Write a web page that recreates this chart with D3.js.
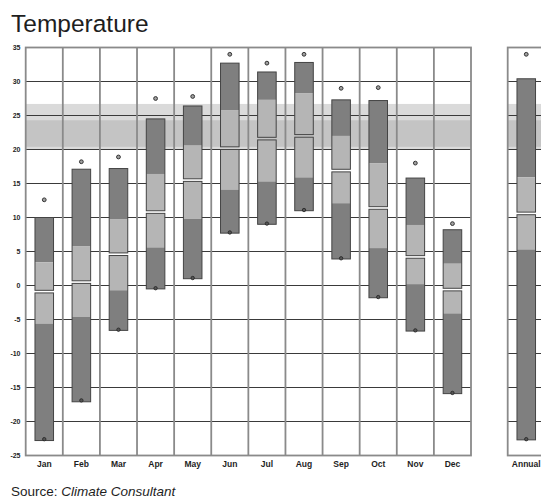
<!DOCTYPE html>
<html>
<head>
<meta charset="utf-8">
<script src="https://cdn.jsdelivr.net/npm/d3@7"></script>
<style>
  html, body { margin: 0; padding: 0; background: #fff; }
  svg { display: block; }
  text { font-family: "Liberation Sans", Arial, Helvetica, sans-serif; }
</style>
</head>
<body>
<svg id="chart" width="541" height="499"></svg>
<script>
// Monthly temperature ranges (°C)
const months = ["Jan", "Feb", "Mar", "Apr", "May", "Jun", "Jul", "Aug", "Sep", "Oct", "Nov", "Dec"];
const recordHigh = [12.6, 18.2, 18.9, 27.5, 27.8, 34.0, 32.7, 34.0, 29.0, 29.1, 18.0, 9.1];
const designHigh = [10.0, 17.1, 17.2, 24.5, 26.4, 32.7, 31.4, 32.8, 27.3, 27.2, 15.8, 8.2];
const avgHigh    = [3.4, 5.8, 9.7, 16.4, 20.6, 25.8, 27.3, 28.3, 22.0, 18.0, 8.9, 3.2];
const meanTemp   = [-0.9, 0.5, 4.6, 10.8, 15.5, 20.2, 21.6, 22.0, 16.9, 11.4, 4.2, -0.6];
const avgLow     = [-5.6, -4.6, -0.7, 5.6, 9.8, 14.1, 15.3, 15.9, 12.1, 5.5, 0.2, -4.1];
const designLow  = [-22.8, -17.1, -6.6, -0.5, 1.0, 7.7, 9.0, 11.0, 3.9, -1.8, -6.7, -15.9];
const recordLow  = [-22.6, -16.9, -6.5, -0.4, 1.1, 7.8, 9.1, 11.1, 4.0, -1.7, -6.6, -15.8];

// Whole-year range
const annualLabel = ["Annual"];
const annualRecordHigh = [34.0];
const annualDesignHigh = [30.4];
const annualAvgHigh    = [15.9];
const annualMean       = [10.6];
const annualAvgLow     = [5.3];
const annualDesignLow  = [-22.7];
const annualRecordLow  = [-22.6];

// Comfort zones (°C)
const comfortOuter = [20.0, 26.7];
const comfortInner = [20.4, 24.3];

const yTicks = d3.range(-25, 36, 5);

const svg = d3.select("#chart");

const y = d3.scaleLinear().domain([-25, 35]).range([455.5, 47.5]);
const xMonth = d3.scaleBand().domain(months).range([25.7, 471]).padding(0);
const xAnnual = d3.scaleBand().domain(annualLabel).range([507.7, 544.8]).padding(0);

const colors = {
  bandOuter: "#dadada",
  bandInner: "#c4c4c4",
  barDark: "#7f7f7f",
  barLight: "#b5b5b5",
  outline: "#444",
  hGrid: "#3a3a3a",
  vGrid: "#8a8a8a",
  text: "#1e1e1e"
};

function rows(labels, rh, dh, ah, mn, al, dl, rl) {
  return labels.map((l, i) => ({
    label: l, recordHigh: rh[i], designHigh: dh[i], avgHigh: ah[i],
    mean: mn[i], avgLow: al[i], designLow: dl[i], recordLow: rl[i]
  }));
}

const monthData = rows(months, recordHigh, designHigh, avgHigh, meanTemp, avgLow, designLow, recordLow);
const annualData = rows(annualLabel, annualRecordHigh, annualDesignHigh, annualAvgHigh,
  annualMean, annualAvgLow, annualDesignLow, annualRecordLow);

function drawPanel(xScale, data) {
  const [x0, x1] = xScale.range();
  const g = svg.append("g");

  // comfort bands
  g.append("rect")
    .attr("x", x0).attr("width", x1 - x0)
    .attr("y", y(comfortOuter[1])).attr("height", y(comfortOuter[0]) - y(comfortOuter[1]))
    .attr("fill", colors.bandOuter);
  g.append("rect")
    .attr("x", x0).attr("width", x1 - x0)
    .attr("y", y(comfortInner[1])).attr("height", y(comfortInner[0]) - y(comfortInner[1]))
    .attr("fill", colors.bandInner);

  // horizontal grid lines
  g.selectAll("line.h").data(yTicks.slice(1, -1)).join("line")
    .attr("class", "h")
    .attr("x1", x0).attr("x2", x1)
    .attr("y1", d => y(d)).attr("y2", d => y(d))
    .attr("stroke", colors.hGrid).attr("stroke-width", 1);

  // vertical separators between categories
  const bounds = data.map(d => xScale(d.label)).slice(1);
  g.selectAll("line.v").data(bounds).join("line")
    .attr("class", "v")
    .attr("x1", d => d).attr("x2", d => d)
    .attr("y1", y(35)).attr("y2", y(-25))
    .attr("stroke", colors.vGrid).attr("stroke-width", 1.8);

  // panel frame
  g.append("rect")
    .attr("x", x0).attr("y", y(35))
    .attr("width", x1 - x0).attr("height", y(-25) - y(35))
    .attr("fill", "none").attr("stroke", colors.vGrid).attr("stroke-width", 1.8);

  const bw = xScale.bandwidth() * 0.5;
  const gap = 1.3;

  const bars = g.selectAll("g.bar").data(data).join("g").attr("class", "bar")
    .attr("transform", d => `translate(${xScale(d.label) + (xScale.bandwidth() - bw) / 2},0)`);

  // upper half: design high → avg high (dark), avg high → mean (light)
  bars.append("rect").attr("width", bw)
    .attr("y", d => y(d.designHigh)).attr("height", d => y(d.avgHigh) - y(d.designHigh))
    .attr("fill", colors.barDark);
  bars.append("rect").attr("width", bw)
    .attr("y", d => y(d.avgHigh)).attr("height", d => y(d.mean) - gap - y(d.avgHigh))
    .attr("fill", colors.barLight);
  // lower half: mean → avg low (light), avg low → design low (dark)
  bars.append("rect").attr("width", bw)
    .attr("y", d => y(d.mean) + gap).attr("height", d => y(d.avgLow) - y(d.mean) - gap)
    .attr("fill", colors.barLight);
  bars.append("rect").attr("width", bw)
    .attr("y", d => y(d.avgLow)).attr("height", d => y(d.designLow) - y(d.avgLow))
    .attr("fill", colors.barDark);

  // outlines of both halves (the gap marks the mean)
  bars.append("rect").attr("width", bw)
    .attr("y", d => y(d.designHigh)).attr("height", d => y(d.mean) - gap - y(d.designHigh))
    .attr("fill", "none").attr("stroke", colors.outline).attr("stroke-width", 1);
  bars.append("rect").attr("width", bw)
    .attr("y", d => y(d.mean) + gap).attr("height", d => y(d.designLow) - y(d.mean) - gap)
    .attr("fill", "none").attr("stroke", colors.outline).attr("stroke-width", 1);

  // record high / low markers
  bars.append("circle").attr("cx", bw / 2).attr("cy", d => y(d.recordHigh)).attr("r", 1.9)
    .attr("fill", "#a0a0a0").attr("stroke", "#333").attr("stroke-width", 1);
  bars.append("circle").attr("cx", bw / 2).attr("cy", d => y(d.recordLow)).attr("r", 1.7)
    .attr("fill", "#555").attr("stroke", "#222").attr("stroke-width", 0.8);

  // category labels
  g.selectAll("text.cat").data(data).join("text")
    .attr("class", "cat")
    .attr("x", d => xScale(d.label) + xScale.bandwidth() / 2)
    .attr("y", 466.5)
    .attr("text-anchor", "middle")
    .attr("font-size", "8.5px").attr("font-weight", "bold")
    .attr("fill", colors.text)
    .text(d => d.label);
}

drawPanel(xMonth, monthData);
drawPanel(xAnnual, annualData);

// y axis labels
svg.append("g").selectAll("text").data(yTicks).join("text")
  .attr("x", 20.5)
  .attr("y", d => y(d))
  .attr("dy", "0.3em")
  .attr("text-anchor", "end")
  .attr("font-size", "7px").attr("font-weight", "bold")
  .attr("fill", colors.text)
  .text(d => d);

// title
svg.append("text")
  .attr("x", 11).attr("y", 32)
  .attr("font-size", "24.5px")
  .attr("fill", colors.text)
  .text("Temperature");

// source line
const src = svg.append("text")
  .attr("x", 11).attr("y", 496)
  .attr("font-size", "13.5px")
  .attr("fill", colors.text);
src.append("tspan").text("Source: ");
src.append("tspan").attr("font-style", "italic").text("Climate Consultant");
</script>
</body>
</html>
